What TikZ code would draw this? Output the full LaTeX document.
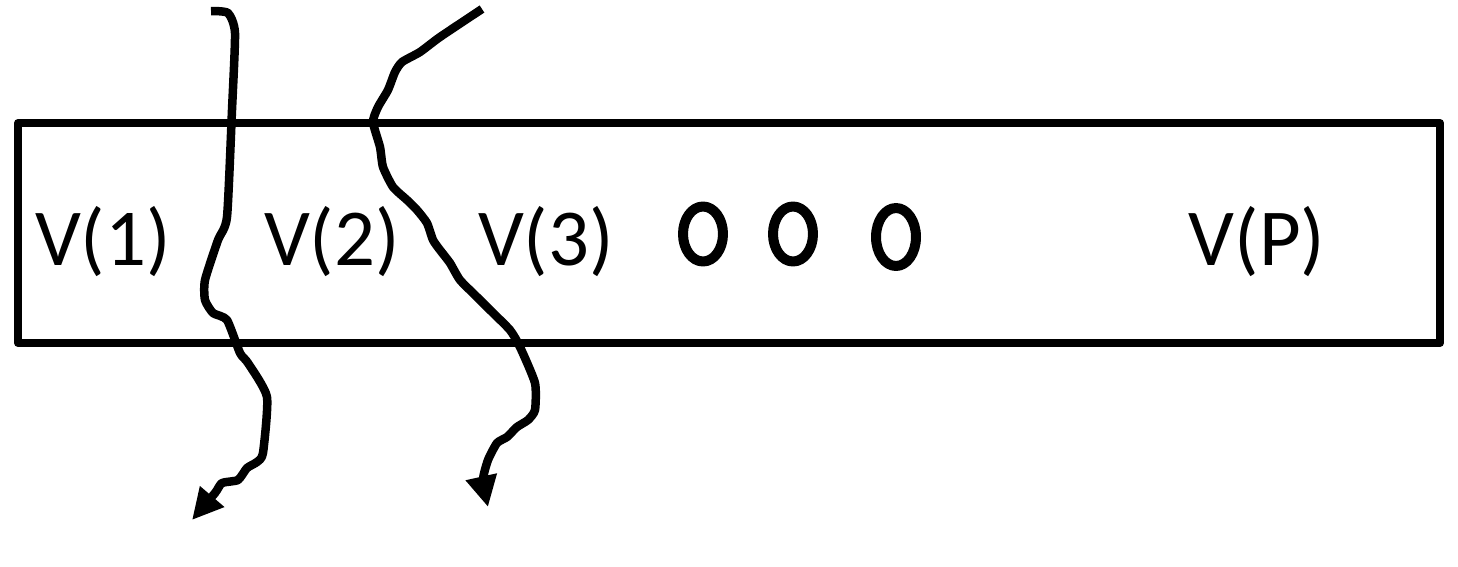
\documentclass[tikz,border=0pt]{standalone}
\usepackage{fontspec}
\setmainfont{Carlito}
\usetikzlibrary{arrows.meta,shapes.geometric}

\begin{document}
\begin{tikzpicture}[x=0.02cm,y=-0.02cm,line join=round,
strip/.style={draw=black,line width=0.16cm},
lbl/.style={font=\fontsize{46}{50}\selectfont,anchor=base,inner sep=0pt},
dot/.style={ellipse,draw=black,line width=0.2cm,inner sep=0pt,minimum width=0.8cm,minimum height=1.1cm},
wave/.style={line width=0.17cm,-{Triangle[length=0.62cm,width=0.6cm]}}]
\useasboundingbox (0,0) rectangle (1458,566);

\draw[strip] (18,123) rectangle (1440,343);

\node[lbl] (v1) at (103,265) {V(1)};
\node[lbl] (v2) at (332,265) {V(2)};
\node[lbl] (v3) at (546,265) {V(3)};
\node[lbl] (vp) at (1257,265) {V(P)};
\node[dot] (o1) at (703,234) {};
\node[dot] (o2) at (793,234) {};
\node[dot,minimum height=1.16cm] (o3) at (896,237) {};

\coordinate (a0) at (211,11);
\coordinate (a1) at (192,520);
\coordinate (b0) at (482,9);
\coordinate (b1) at (488,507);

\draw[wave] plot[smooth,tension=0.35] coordinates {(a0) (228,13) (235,33) (232,110)
  (227,217) (218,240) (205,280) (205,300) (213,313) (227,320) (240,353) (248,363)
  (267,397) (263,453) (257,462) (247,468) (238,480) (222,483) (215,493) (a1)};
\draw[wave] plot[smooth,tension=0.35] coordinates {(b0) (440,37) (420,52) (402,62)
  (395,72) (388,90) (378,107) (373,122) (380,147) (383,167) (393,187) (407,200)
  (417,210) (427,223) (433,240) (440,250) (450,263) (460,280) (477,297) (490,310)
  (510,330) (520,347) (535,383) (535,410) (528,420) (517,427) (507,437) (497,443)
  (488,460) (483,480) (b1)};
\end{tikzpicture}
\end{document}
